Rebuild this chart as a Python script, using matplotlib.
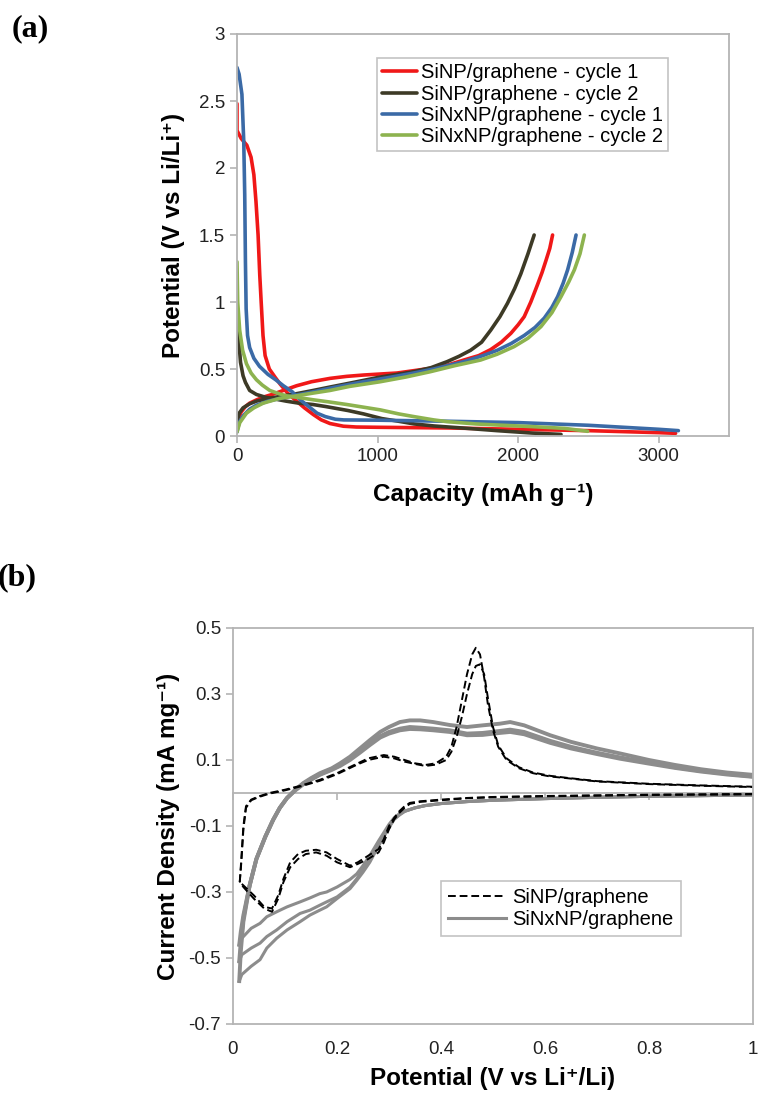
import matplotlib
matplotlib.use("Agg")
import matplotlib.pyplot as plt

plt.rcParams["font.family"] = ["Liberation Sans", "DejaVu Sans"]

# ---------------- panel (a): charge / discharge ----------------
cap_r1_dis = [0, 0, 30, 70, 100, 120, 135, 150, 162, 172, 185, 200, 230, 270, 305, 360,
              424, 480, 543, 600, 662, 757, 850, 1000, 1500, 2000, 2500, 3000, 3120]
v_r1_dis = [2.48, 2.28, 2.22, 2.17, 2.08, 1.95, 1.75, 1.5, 1.2, 1.0, 0.75, 0.6, 0.5, 0.44,
            0.39, 0.32, 0.26, 0.21, 0.16, 0.12, 0.093, 0.073, 0.067, 0.065, 0.06, 0.05,
            0.04, 0.025, 0.02]
cap_r1_chg = [0, 10, 30, 60, 90, 140, 186, 250, 330, 424, 530, 662, 780, 900, 1138, 1376,
              1500, 1614, 1720, 1805, 1880, 1948, 2000, 2043, 2090, 2138, 2170, 2198, 2225, 2245]
v_r1_chg = [0.08, 0.13, 0.18, 0.22, 0.245, 0.27, 0.29, 0.31, 0.34, 0.375, 0.405, 0.43,
            0.445, 0.455, 0.47, 0.505, 0.53, 0.567, 0.6, 0.645, 0.7, 0.766, 0.83, 0.89,
            1.0, 1.13, 1.22, 1.31, 1.4, 1.5]

cap_r2_dis = [0, 10, 25, 43, 60, 90, 138, 200, 275, 350, 440, 540, 630, 790, 900, 1030,
              1150, 1260, 1400, 1600, 1850, 2100, 2305]
v_r2_dis = [1.0, 0.75, 0.55, 0.45, 0.4, 0.34, 0.31, 0.29, 0.275, 0.26, 0.245, 0.235, 0.22,
            0.19, 0.165, 0.13, 0.11, 0.09, 0.075, 0.06, 0.04, 0.022, 0.012]
cap_r2_chg = [0, 15, 43, 90, 138, 220, 305, 420, 543, 660, 781, 900, 1019, 1140, 1257, 1380,
              1495, 1580, 1662, 1740, 1805, 1870, 1924, 1975, 2019, 2070, 2114]
v_r2_chg = [0.1, 0.17, 0.21, 0.24, 0.26, 0.28, 0.295, 0.315, 0.34, 0.365, 0.39, 0.415, 0.44,
            0.46, 0.48, 0.51, 0.555, 0.595, 0.64, 0.7, 0.79, 0.89, 0.99, 1.1, 1.21, 1.36, 1.5]

cap_n1_dis = [0, 15, 35, 48, 55, 60, 65, 75, 90, 120, 160, 220, 275, 330, 393, 450, 510, 570,
              628, 700, 760, 1000, 1500, 2000, 2500, 3000, 3140]
v_n1_dis = [2.75, 2.7, 2.55, 2.2, 1.8, 1.3, 0.95, 0.75, 0.66, 0.58, 0.52, 0.46, 0.42, 0.375,
            0.33, 0.27, 0.22, 0.17, 0.145, 0.125, 0.12, 0.118, 0.11, 0.1, 0.08, 0.05, 0.04]
cap_n1_chg = [0, 15, 43, 90, 138, 220, 305, 420, 543, 700, 900, 1100, 1257, 1400, 1614, 1750,
              1852, 1950, 2043, 2120, 2186, 2240, 2281, 2320, 2352, 2385, 2412]
v_n1_chg = [0.03, 0.1, 0.15, 0.2, 0.23, 0.26, 0.28, 0.305, 0.33, 0.365, 0.405, 0.44, 0.47,
            0.5, 0.555, 0.6, 0.64, 0.69, 0.75, 0.81, 0.88, 0.96, 1.04, 1.14, 1.24, 1.37, 1.5]

cap_n2_dis = [0, 5, 19, 40, 67, 100, 138, 180, 233, 300, 350, 450, 543, 650, 781, 900, 1019,
              1150, 1257, 1400, 1495, 1700, 1852, 2100, 2329, 2495]
v_n2_dis = [1.3, 1.0, 0.79, 0.64, 0.54, 0.47, 0.42, 0.38, 0.34, 0.315, 0.3, 0.285, 0.27,
            0.255, 0.235, 0.215, 0.195, 0.165, 0.145, 0.12, 0.107, 0.09, 0.082, 0.07, 0.057,
            0.035]
cap_n2_chg = [0, 20, 67, 120, 186, 300, 424, 540, 662, 800, 1019, 1200, 1376, 1550, 1733,
              1850, 1971, 2070, 2162, 2240, 2305, 2360, 2400, 2440, 2471]
v_n2_chg = [0.03, 0.1, 0.17, 0.21, 0.245, 0.28, 0.3, 0.32, 0.34, 0.37, 0.405, 0.44, 0.48,
            0.525, 0.567, 0.61, 0.667, 0.73, 0.816, 0.92, 1.04, 1.15, 1.24, 1.36, 1.5]

labels_a = ["SiNP/graphene - cycle 1", "SiNP/graphene - cycle 2",
            "SiNxNP/graphene - cycle 1", "SiNxNP/graphene - cycle 2"]
colors_a = ["#f01818", "#3d3a26", "#3b6aa6", "#8db34f"]

# ---------------- panel (b): cyclic voltammetry ----------------
# SiNP/graphene, two cycles (cathodic then anodic sweep)
v_si_cat = [1.0, 0.9, 0.8, 0.7, 0.6, 0.5, 0.45, 0.4, 0.36, 0.34, 0.33, 0.32, 0.31, 0.3,
            0.29, 0.28, 0.26, 0.24, 0.225, 0.2, 0.18, 0.16, 0.14, 0.125, 0.11, 0.097,
            0.087, 0.075, 0.06, 0.04, 0.02, 0.013]
i_si1_cat = [-0.003, -0.004, -0.005, -0.007, -0.009, -0.012, -0.015, -0.02, -0.025, -0.03,
             -0.04, -0.055, -0.075, -0.1, -0.14, -0.17, -0.19, -0.21, -0.22, -0.2, -0.18,
             -0.172, -0.175, -0.185, -0.21, -0.26, -0.31, -0.35, -0.345, -0.31, -0.28, -0.27]
i_si2_cat = [-0.004, -0.005, -0.006, -0.008, -0.01, -0.013, -0.016, -0.022, -0.027, -0.033,
             -0.045, -0.06, -0.08, -0.11, -0.15, -0.18, -0.2, -0.215, -0.225, -0.21, -0.19,
             -0.18, -0.185, -0.2, -0.225, -0.27, -0.32, -0.36, -0.35, -0.32, -0.285, -0.27]
v_si_an = [0.013, 0.016, 0.02, 0.025, 0.035, 0.05, 0.07, 0.1, 0.13, 0.167, 0.2, 0.22, 0.24,
           0.26, 0.29, 0.31, 0.33, 0.35, 0.37, 0.39, 0.41, 0.42, 0.43, 0.44, 0.45, 0.46,
           0.467, 0.475, 0.483, 0.49, 0.5, 0.51, 0.526, 0.55, 0.577, 0.61, 0.642, 0.7, 0.8,
           0.9, 1.0]
i_si1_an = [-0.27, -0.2, -0.1, -0.04, -0.02, -0.01, 0.0, 0.01, 0.022, 0.04, 0.06, 0.075,
            0.09, 0.105, 0.115, 0.11, 0.1, 0.09, 0.085, 0.09, 0.11, 0.14, 0.2, 0.28, 0.36,
            0.42, 0.44, 0.42, 0.35, 0.27, 0.19, 0.14, 0.1, 0.075, 0.06, 0.05, 0.045, 0.035,
            0.027, 0.022, 0.018]
i_si2_an = [-0.27, -0.21, -0.11, -0.045, -0.022, -0.012, -0.002, 0.008, 0.02, 0.037, 0.057,
            0.072, 0.087, 0.1, 0.11, 0.105, 0.095, 0.088, 0.082, 0.086, 0.1, 0.125, 0.17,
            0.23, 0.3, 0.36, 0.385, 0.39, 0.36, 0.29, 0.2, 0.145, 0.105, 0.078, 0.062, 0.052,
            0.046, 0.036, 0.028, 0.023, 0.019]

# SiNxNP/graphene, three cycles
v_sin_cat = [1.0, 0.9, 0.8, 0.7, 0.6, 0.5, 0.45, 0.4, 0.37, 0.35, 0.33, 0.32, 0.31, 0.3,
             0.29, 0.28, 0.263, 0.25, 0.238, 0.225, 0.2, 0.18, 0.167, 0.148, 0.129, 0.104,
             0.084, 0.065, 0.052, 0.035, 0.017, 0.012]
i_sin1_cat = [-0.006, -0.008, -0.01, -0.013, -0.017, -0.022, -0.026, -0.032, -0.038, -0.045,
              -0.055, -0.063, -0.075, -0.095, -0.12, -0.145, -0.19, -0.22, -0.245, -0.262,
              -0.285, -0.3, -0.305, -0.318, -0.33, -0.345, -0.36, -0.375, -0.395, -0.41,
              -0.44, -0.46]
i_sin2_cat = [-0.006, -0.008, -0.01, -0.013, -0.017, -0.022, -0.026, -0.032, -0.038, -0.045,
              -0.055, -0.065, -0.078, -0.1, -0.128, -0.155, -0.2, -0.23, -0.26, -0.285,
              -0.315, -0.33, -0.34, -0.355, -0.365, -0.39, -0.415, -0.435, -0.455, -0.47,
              -0.49, -0.51]
i_sin3_cat = [-0.006, -0.008, -0.01, -0.013, -0.017, -0.022, -0.026, -0.032, -0.038, -0.045,
              -0.056, -0.067, -0.08, -0.105, -0.132, -0.16, -0.21, -0.24, -0.265, -0.29,
              -0.32, -0.345, -0.355, -0.37, -0.39, -0.415, -0.44, -0.47, -0.505, -0.525,
              -0.55, -0.57]
v_sin_an = [0.012, 0.015, 0.02, 0.032, 0.045, 0.062, 0.077, 0.09, 0.104, 0.12, 0.135, 0.15,
            0.167, 0.19, 0.206, 0.225, 0.244, 0.263, 0.283, 0.3, 0.321, 0.34, 0.36, 0.385,
            0.417, 0.45, 0.48, 0.513, 0.533, 0.56, 0.61, 0.65, 0.7, 0.744, 0.8, 0.85, 0.9,
            0.95, 1.0]
i_sin1_an = [-0.46, -0.42, -0.37, -0.28, -0.2, -0.133, -0.082, -0.045, -0.015, 0.01, 0.03,
             0.045, 0.06, 0.075, 0.09, 0.11, 0.135, 0.16, 0.185, 0.2, 0.215, 0.22, 0.22,
             0.215, 0.206, 0.2, 0.205, 0.21, 0.215, 0.205, 0.175, 0.155, 0.135, 0.12, 0.1,
             0.085, 0.072, 0.062, 0.055]
i_sin2_an = [-0.51, -0.45, -0.38, -0.28, -0.2, -0.133, -0.082, -0.045, -0.015, 0.01, 0.028,
             0.042, 0.057, 0.072, 0.085, 0.105, 0.128, 0.15, 0.172, 0.185, 0.195, 0.2, 0.198,
             0.195, 0.19, 0.18, 0.182, 0.188, 0.192, 0.185, 0.158, 0.14, 0.122, 0.108, 0.092,
             0.078, 0.067, 0.058, 0.05]
i_sin3_an = [-0.57, -0.48, -0.39, -0.28, -0.2, -0.133, -0.082, -0.045, -0.015, 0.008, 0.026,
             0.04, 0.055, 0.07, 0.082, 0.1, 0.122, 0.145, 0.168, 0.18, 0.19, 0.194, 0.193,
             0.19, 0.185, 0.175, 0.176, 0.182, 0.185, 0.178, 0.152, 0.135, 0.118, 0.104,
             0.089, 0.076, 0.065, 0.056, 0.049]

xticks_b = [0, 0.2, 0.4, 0.6, 0.8, 1]
xticklabels_b = ["0", "0.2", "0.4", "0.6", "0.8", "1"]
yticks_b = [-0.7, -0.5, -0.3, -0.1, 0.1, 0.3, 0.5]
yticklabels_b = ["-0.7", "-0.5", "-0.3", "-0.1", "0.1", "0.3", "0.5"]
yticks_a = [0, 0.5, 1, 1.5, 2, 2.5, 3]
yticklabels_a = ["0", "0.5", "1", "1.5", "2", "2.5", "3"]
xticks_a = [0, 1000, 2000, 3000]

frame = "#b4b4b4"
W, H = 760, 1094
fig = plt.figure(figsize=(W / 100, H / 100), dpi=100)

# ---- (a)
ax1 = fig.add_axes([237 / W, 1 - 436 / H, 492 / W, 402 / H])
series_a = [(cap_r1_dis, v_r1_dis, cap_r1_chg, v_r1_chg),
            (cap_r2_dis, v_r2_dis, cap_r2_chg, v_r2_chg),
            (cap_n1_dis, v_n1_dis, cap_n1_chg, v_n1_chg),
            (cap_n2_dis, v_n2_dis, cap_n2_chg, v_n2_chg)]
for (cd, vd, cc, vc), lab, col in zip(series_a, labels_a, colors_a):
    ax1.plot(cd, vd, color=col, lw=2.6, label=lab, solid_capstyle="round")
    ax1.plot(cc, vc, color=col, lw=2.6, solid_capstyle="round")

ax1.set_xlim(0, 3500)
ax1.set_ylim(0, 3)
ax1.set_xticks(xticks_a)
ax1.set_xticklabels([str(t) for t in xticks_a])
ax1.set_yticks(yticks_a)
ax1.set_yticklabels(yticklabels_a)
ax1.tick_params(labelsize=13.5, length=5, width=1.2, color=frame, labelcolor="#222222")
for s in ax1.spines.values():
    s.set_color(frame)
    s.set_linewidth(1.3)
ax1.set_xlabel("Capacity (mAh g\u207b\u00b9)", fontsize=17.5, fontweight="bold",
               labelpad=13)
ax1.set_ylabel("Potential (V vs Li/Li\u207a)", fontsize=17.5, fontweight="bold",
               labelpad=10)
leg1 = ax1.legend(loc="upper left", bbox_to_anchor=(0.285, 0.94), borderaxespad=0,
                  fontsize=14.5, frameon=True, fancybox=False, handlelength=1.75,
                  handletextpad=0.15, labelspacing=0.12, borderpad=0.25)
leg1.get_frame().set_edgecolor(frame)
leg1.get_frame().set_linewidth(1.2)

# ---- (b)
ax2 = fig.add_axes([233 / W, 1 - 1024 / H, 520 / W, 396 / H])
gray = "#8c8c8c"
first = True
for ic, ia in [(i_sin1_cat, i_sin1_an), (i_sin2_cat, i_sin2_an), (i_sin3_cat, i_sin3_an)]:
    ax2.plot(v_sin_cat, ic, color=gray, lw=2.2, label="SiNxNP/graphene" if first else None)
    ax2.plot(v_sin_an, ia, color=gray, lw=2.8)
    first = False
first = True
for ic, ia in [(i_si1_cat, i_si1_an), (i_si2_cat, i_si2_an)]:
    ax2.plot(v_si_cat, ic, color="black", lw=1.4, ls=(0, (4, 2)),
             label="SiNP/graphene" if first else None)
    ax2.plot(v_si_an, ia, color="black", lw=1.4, ls=(0, (4, 2)))
    first = False

ax2.set_xlim(0, 1)
ax2.set_ylim(-0.7, 0.5)
ax2.set_xticks(xticks_b)
ax2.set_xticklabels(xticklabels_b)
ax2.set_yticks(yticks_b)
ax2.set_yticklabels(yticklabels_b)
ax2.tick_params(axis="x", length=0, labelsize=13.5, labelcolor="#222222", pad=12)
ax2.tick_params(axis="y", length=5, width=1.2, color=frame, labelsize=13.5,
                labelcolor="#222222")
for s in ax2.spines.values():
    s.set_color(frame)
    s.set_linewidth(1.3)

# horizontal axis crossing at zero current, Excel style (ticks point down)
zero_ax = ax2.secondary_xaxis(0.7 / 1.2)
zero_ax.set_xticks(xticks_b)
zero_ax.set_xticklabels([""] * len(xticks_b))
zero_ax.tick_params(axis="x", direction="in", length=5, width=1.2, color=frame,
                    labeltop=False, labelbottom=False)
for s in zero_ax.spines.values():
    s.set_color(frame)
    s.set_linewidth(1.3)

ax2.set_xlabel("Potential (V vs Li\u207a/Li)", fontsize=17.5, fontweight="bold",
               labelpad=7)
ax2.set_ylabel("Current Density (mA mg\u207b\u00b9)", fontsize=17.5,
               fontweight="bold", labelpad=6)
h, l = ax2.get_legend_handles_labels()
order = [l.index("SiNP/graphene"), l.index("SiNxNP/graphene")]
leg2 = ax2.legend([h[i] for i in order], [l[i] for i in order], loc="upper left",
                  bbox_to_anchor=(0.4, 0.361), borderaxespad=0, fontsize=14.5,
                  frameon=True, fancybox=False, handlelength=2.9, handletextpad=0.3,
                  labelspacing=0.15, borderpad=0.35)
leg2.get_frame().set_edgecolor(frame)
leg2.get_frame().set_linewidth(1.2)

fig.text(12 / W, 1 - 14 / H, "(a)", fontsize=23, fontweight="bold",
         family="Liberation Serif", va="top", ha="left")
fig.text(-2 / W, 1 - 563 / H, "(b)", fontsize=23, fontweight="bold",
         family="Liberation Serif", va="top", ha="left")

fig.savefig("out.png", dpi=100)
